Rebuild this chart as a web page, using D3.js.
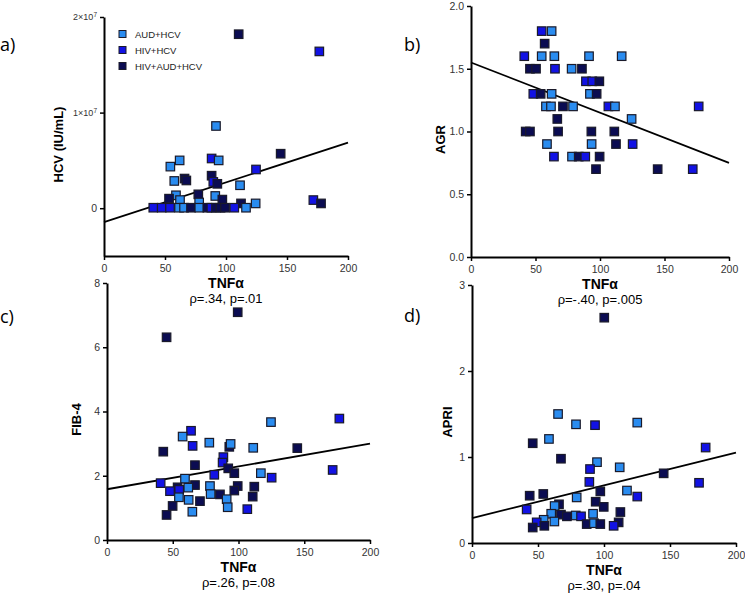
<!DOCTYPE html>
<html>
<head>
<meta charset="utf-8">
<script src="https://cdn.jsdelivr.net/npm/d3@7"></script>
<style>
  body { margin: 0; background: #fff; }
  svg { font-family: "Liberation Sans", Arial, sans-serif; }
</style>
</head>
<body>
<div id="chart"></div>
<script>
// group index: 0 = AUD+HCV, 1 = HIV+HCV, 2 = HIV+AUD+HCV
const groups = ["AUD+HCV", "HIV+HCV", "HIV+AUD+HCV"];
const groupColors = ["#2a8cf0", "#1212e4", "#0b0c52"];

const xTicks = [0, 50, 100, 150, 200];

// [TNFα, value, group]
const hcvPoints = [
  [91.8, 8.6e6, 0], [144.8, 5.7e6, 2], [124.6, 4.05e6, 1], [62, 5.0e6, 0],
  [54.4, 4.35e6, 0], [88.2, 5.2e6, 1], [94, 5.0e6, 0], [57.6, 2.85e6, 0],
  [66, 3.1e6, 2], [67.5, 2.9e6, 2], [88.2, 3.4e6, 2], [89.6, 2.75e6, 1],
  [92.9, 2.55e6, 2], [111.5, 2.4e6, 0], [59, 1.35e6, 0], [62.3, 0.85e6, 0],
  [53.3, 1.0e6, 2], [77.3, 1.45e6, 2], [91.2, 1.28e6, 0], [97, 0.9e6, 2],
  [112.3, 0.5e6, 2], [124.3, 0.5e6, 0], [171.6, 0.85e6, 1], [177.9, 0.5e6, 2],
  [78, 0.6e6, 0], [110.4, 18.2e6, 2], [176.5, 16.4e6, 1],
  [40.4, 0.05e6, 1], [47.3, 0.05e6, 1], [54.1, 0.05e6, 1], [61.5, 0.05e6, 0],
  [65.6, 0.05e6, 0], [71.3, 0.05e6, 2], [78.1, 0.05e6, 0], [84.7, 0.05e6, 2],
  [88, 0.05e6, 1], [91.8, 0.05e6, 2], [95.5, 0.05e6, 2], [99.2, 0.05e6, 2],
  [106.8, 0.05e6, 1], [116.4, 0.05e6, 0]
];

const agrPoints = [
  [54.8, 1.8, 1], [62.5, 1.8, 0], [57.1, 1.7, 2], [41.3, 1.6, 1], [54.8, 1.6, 0],
  [64.6, 1.6, 0], [91.5, 1.6, 0], [116.8, 1.6, 0], [45.7, 1.5, 2], [50.4, 1.5, 2],
  [65.1, 1.5, 1], [78, 1.5, 0], [86, 1.5, 2], [89.1, 1.4, 1], [94, 1.4, 1],
  [99.5, 1.4, 2], [48.3, 1.3, 1], [54, 1.3, 2], [62.5, 1.3, 0], [92.2, 1.3, 0],
  [97.4, 1.3, 2], [58.1, 1.2, 0], [62, 1.2, 0], [71.3, 1.2, 2], [79.1, 1.2, 0],
  [106.5, 1.2, 1], [111.6, 1.2, 0], [176.5, 1.2, 1], [66.9, 1.1, 2], [124.5, 1.1, 0],
  [42.4, 1.0, 2], [45.7, 1.0, 2], [67.5, 1.0, 2], [93.3, 1.0, 2], [111.1, 1.0, 2],
  [58.9, 0.9, 0], [93.5, 0.9, 0], [112.4, 0.9, 2], [125.3, 0.9, 1], [64.3, 0.8, 1],
  [78.3, 0.8, 0], [83.5, 0.8, 2], [88.6, 0.8, 1], [99.7, 0.8, 2], [96.9, 0.7, 2],
  [144.7, 0.7, 2], [171.9, 0.7, 1]
];

const fibPoints = [
  [176.7, 3.78, 1], [124.7, 3.67, 0], [63.9, 3.4, 1], [57.5, 3.22, 0], [42.8, 2.75, 2],
  [65.1, 2.93, 1], [77.8, 3.03, 0], [93, 2.9, 2], [94, 2.99, 0], [111.2, 2.87, 0],
  [144.7, 2.86, 2], [66.9, 2.33, 2], [88.5, 2.58, 1], [87.9, 2.41, 1], [92.2, 2.23, 2],
  [96.8, 2.08, 2], [81.6, 2.03, 1], [117, 2.08, 0], [125.2, 1.94, 1], [171.6, 2.18, 1],
  [40.8, 1.77, 1], [59.3, 1.91, 0], [53.7, 1.64, 2], [66.9, 1.71, 2], [61.8, 1.63, 0],
  [47.9, 1.52, 1], [54.9, 1.56, 1], [78.3, 1.68, 0], [99.4, 1.68, 2], [112, 1.66, 2],
  [54.7, 1.33, 0], [78.8, 1.43, 0], [85.9, 1.42, 2], [96.8, 1.54, 2], [110.8, 1.35, 2],
  [62.1, 1.25, 0], [70.7, 1.21, 2], [91, 1.27, 0], [49.9, 1.06, 2], [91.8, 1.02, 0],
  [106.7, 0.96, 1], [64.9, 0.88, 0], [45.3, 0.78, 2], [45.3, 6.31, 2], [99.4, 7.09, 2]
];

const apriPoints = [
  [100.2, 2.62, 2], [65.2, 1.5, 0], [78.8, 1.38, 0], [93.2, 1.37, 1], [125.2, 1.4, 0],
  [46, 1.16, 2], [58.3, 1.21, 0], [67.4, 0.98, 2], [177, 1.11, 1], [94.7, 0.94, 0],
  [89.4, 0.86, 1], [111.9, 0.88, 0], [145.2, 0.81, 2], [88.9, 0.71, 1], [172, 0.7, 1],
  [97.2, 0.6, 2], [117.4, 0.61, 0], [125.2, 0.54, 1], [43.7, 0.55, 2], [54, 0.57, 2],
  [79.3, 0.53, 0], [41.4, 0.39, 1], [93.7, 0.48, 2], [99.8, 0.42, 2], [65.9, 0.45, 2],
  [62.6, 0.43, 0], [112.4, 0.36, 2], [60, 0.34, 0], [67.4, 0.33, 2], [71.9, 0.31, 2],
  [78.6, 0.32, 0], [82.6, 0.31, 1], [91.7, 0.34, 0], [54.3, 0.27, 0], [62.4, 0.25, 0],
  [49, 0.24, 1], [86.9, 0.22, 2], [92.4, 0.23, 0], [97.2, 0.22, 2], [111.1, 0.24, 2],
  [107.3, 0.2, 1], [46, 0.18, 2], [54.8, 0.2, 2]
];

// regression line end values at TNFα = 0 and 200
const hcvFit = [-1.45e6, 6.85e6];
const agrFit = [1.55, 0.75];
const fibFit = [1.58, 3.0];
const apriFit = [0.29, 1.05];

const panels = [
  { id: "a)", points: hcvPoints, fit: hcvFit, yLabel: "HCV (IU/mL)", stat: "\u03c1=.34, p=.01",
    yDomain: [-0.5e7, 2e7], yTicks: [0, 1e7, 2e7], sci: true,
    left: 104, right: 348, top: 17, bottom: 256, labelX: 0, labelY: 51, yTitleX: 63 },
  { id: "b)", points: agrPoints, fit: agrFit, yLabel: "AGR", stat: "\u03c1=-.40, p=.005",
    yDomain: [0, 2], yTicks: [0, 0.5, 1, 1.5, 2], fmt: d3.format(".1f"),
    left: 471, right: 729, top: 6, bottom: 257, labelX: 404, labelY: 51, yTitleX: 445 },
  { id: "c)", points: fibPoints, fit: fibFit, yLabel: "FIB-4", stat: "\u03c1=.26, p=.08",
    yDomain: [0, 8], yTicks: [0, 2, 4, 6, 8], fmt: d3.format("d"),
    left: 107, right: 370, top: 283, bottom: 540, labelX: 0, labelY: 323, yTitleX: 81 },
  { id: "d)", points: apriPoints, fit: apriFit, yLabel: "APRI", stat: "\u03c1=.30, p=.04",
    yDomain: [0, 3], yTicks: [0, 1, 2, 3], fmt: d3.format("d"),
    left: 472, right: 736, top: 285, bottom: 543, labelX: 404, labelY: 322, yTitleX: 452 }
];

const svg = d3.select("#chart").append("svg")
  .attr("width", 745).attr("height", 600);

panels.forEach(p => {
  const g = svg.append("g");
  const x = d3.scaleLinear().domain([0, 200]).range([p.left, p.right]);
  const y = d3.scaleLinear().domain(p.yDomain).range([p.bottom, p.top]);

  // axes
  const xAxis = g.append("g")
    .attr("transform", `translate(0,${p.bottom})`)
    .call(d3.axisBottom(x).tickValues(xTicks).tickSize(4).tickSizeOuter(0));
  const yAxis = g.append("g")
    .attr("transform", `translate(${p.left},0)`)
    .call(d3.axisLeft(y).tickValues(p.yTicks).tickSize(4).tickSizeOuter(0)
      .tickFormat(p.sci ? () => "" : p.fmt));

  [xAxis, yAxis].forEach(a => {
    a.select(".domain").attr("stroke", "#000").attr("stroke-width", 2);
    a.selectAll(".tick line").attr("stroke", "#000").attr("stroke-width", 1.5);
    a.selectAll(".tick text").attr("fill", "#333").style("font-size", "10.5px");
  });
  xAxis.selectAll(".tick text").attr("dy", "0.9em");

  if (p.sci) {
    // 1x10^7 style labels
    yAxis.selectAll(".tick").each(function (d) {
      const t = d3.select(this).select("text");
      if (d === 0) { t.text("0"); return; }
      t.style("font-size", "9px");
      t.append("tspan").text((d / 1e7) + "\u00d710");
      t.append("tspan").text("7").attr("dy", "-0.5em").style("font-size", "6.5px");
    });
  }

  // regression line
  g.append("line")
    .attr("x1", x(0)).attr("y1", y(p.fit[0]))
    .attr("x2", x(200)).attr("y2", y(p.fit[1]))
    .attr("stroke", "#000").attr("stroke-width", 1.8);

  // points
  g.selectAll("rect.pt")
    .data(p.points)
    .enter()
    .append("rect")
    .attr("class", "pt")
    .attr("x", d => x(d[0]) - 4.25)
    .attr("y", d => y(d[1]) - 4.25)
    .attr("width", 8.5)
    .attr("height", 8.5)
    .attr("fill", d => groupColors[d[2]])
    .attr("stroke", "#1a1a2a")
    .attr("stroke-width", 1.2);

  // titles
  const mid = (p.left + p.right) / 2;
  g.append("text")
    .attr("x", mid).attr("y", p.bottom + 32)
    .attr("text-anchor", "middle")
    .attr("font-weight", "bold").attr("font-size", "14px")
    .text("TNF\u03b1");
  g.append("text")
    .attr("x", mid).attr("y", p.bottom + 47)
    .attr("text-anchor", "middle")
    .attr("font-size", "13px")
    .text(p.stat);
  g.append("text")
    .attr("transform", `translate(${p.yTitleX},${(p.top + p.bottom) / 2 + 8}) rotate(-90)`)
    .attr("text-anchor", "middle")
    .attr("font-weight", "bold").attr("font-size", "13px")
    .text(p.yLabel);
  g.append("text")
    .attr("x", p.labelX).attr("y", p.labelY)
    .attr("font-family", "'Open Sans', sans-serif")
    .attr("font-size", "18px")
    .text(p.id);
});

// legend in panel a
const legend = svg.append("g").attr("transform", "translate(119,34)");
groups.forEach((name, i) => {
  legend.append("rect")
    .attr("x", 0).attr("y", i * 16 - 3.5)
    .attr("width", 7).attr("height", 7)
    .attr("fill", groupColors[i])
    .attr("stroke", "#1a1a2a").attr("stroke-width", 1);
  legend.append("text")
    .attr("x", 16).attr("y", i * 16 + 3.5)
    .attr("font-size", "9.5px").attr("fill", "#222")
    .text(name);
});
</script>
</body>
</html>
